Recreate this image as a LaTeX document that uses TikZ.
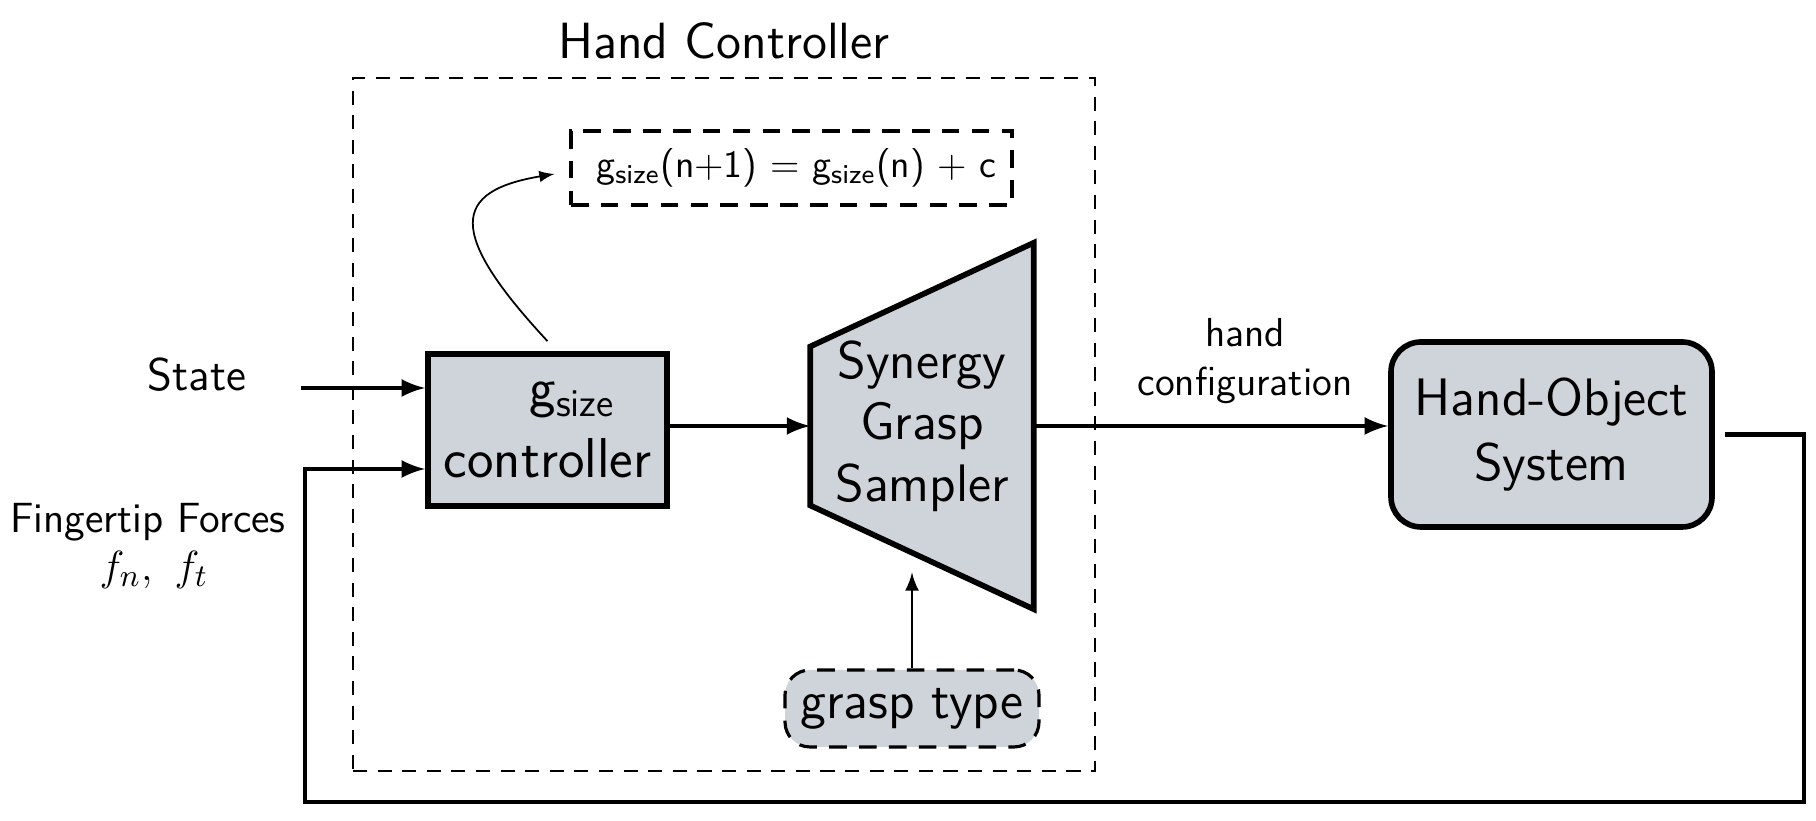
\documentclass[tikz,border=0pt]{standalone}
\usetikzlibrary{positioning,backgrounds}
\definecolor{boxgray}{HTML}{CED4DA}
\begin{document}
\begin{tikzpicture}[font=\sffamily, >=latex,
    blk/.style={draw, line width=1.6pt, fill=boxgray, align=center, inner sep=0pt, font=\sffamily\fontsize{15}{18}\selectfont},
    dbox/.style={draw, line width=0.9pt, dash pattern=on 5pt off 3.5pt},
    lbl/.style={align=center, font=\sffamily\fontsize{13}{15}\selectfont},
    conn/.style={line width=1.3pt}]
        \useasboundingbox (0,0) rectangle (18.16,8.21);
        % 外框
        \node[draw, line width=0.6pt, dash pattern=on 4pt off 3pt, minimum width=7.42cm, minimum height=6.93cm] (hc) at (7.24,3.965) {};
        \node[font=\sffamily\fontsize{14.5}{17}\selectfont] (title) at (7.24,7.80) {Hand Controller};
        % 方块
        \node[blk, minimum width=2.39cm, minimum height=1.52cm, font=\sffamily\fontsize{16}{20}\selectfont] (ctrl) at (5.475,3.91) {\hspace{0.5cm}g\textsubscript{size}\\controller};
        \node[dbox, inner sep=0pt, minimum width=4.41cm, minimum height=0.74cm, font=\sffamily\fontsize{11}{13}\selectfont] (rule) at (7.915,6.53) {\hspace{0.1cm}g\textsubscript{size}(n+1) = g\textsubscript{size}(n) + c};
        \node[align=center, minimum width=2.22cm, minimum height=3.65cm, inner sep=0pt, font=\sffamily\fontsize{15}{17.5}\selectfont] (sgs) at (9.22,3.95) {Synergy\\Grasp\\Sampler};
        \begin{scope}[on background layer]
          \draw[line width=1.6pt, fill=boxgray] ([yshift=0.795cm]sgs.west) -- ([yshift=-0.795cm]sgs.west) -- (sgs.south east) -- (sgs.north east) -- cycle;
        \end{scope}
        \node[blk, dbox, fill=boxgray, rounded corners=0.25cm, minimum width=2.54cm, minimum height=0.77cm] (grasp) at (9.12,1.125) {grasp type};
        \node[blk, rounded corners=0.3cm, minimum width=3.21cm, minimum height=1.85cm, font=\sffamily\fontsize{15}{18.5}\selectfont] (hos) at (15.515,3.865) {Hand-Object\\System};
        % 文字
        \node[lbl] (state) at (1.97,4.46) {State};
        \node[lbl, font=\sffamily\fontsize{12}{14}\selectfont] (forces) at (1.48,2.99) {Fingertip Forces};
        \node[lbl] (fnft) at (1.54,2.51) {$f_n,\ f_t$};
        \node[lbl, font=\sffamily\fontsize{11.5}{14}\selectfont] (hcfg) at (12.45,4.60) {hand\\configuration};
        % 箭头
        \coordinate (statein) at (3.01,4.33);
        \draw[conn,->] (statein) -- (statein -| ctrl.west);
        \draw[conn,->] (ctrl.east |- sgs.west) -- (sgs.west);
        \draw[conn,->] (sgs.east) -- (sgs.east -| hos.west);
        \draw[line width=0.8pt,->] (grasp.north) -- ++(0,0.96);
        \draw[line width=0.5pt,->] ([yshift=0.1cm]ctrl.north) .. controls (4.46,5.89) and (4.52,6.30) .. ([xshift=-0.15cm,yshift=-0.06cm]rule.west);
        \coordinate (fbright) at (18.04,0.19);
        \coordinate (fbleft) at (3.05,0.19);
        \draw[conn,->] ([xshift=0.1cm]hos.east) -| (fbright) -- (fbleft) |- (ctrl.west |- 0,3.52);
      \end{tikzpicture}
\end{document}
